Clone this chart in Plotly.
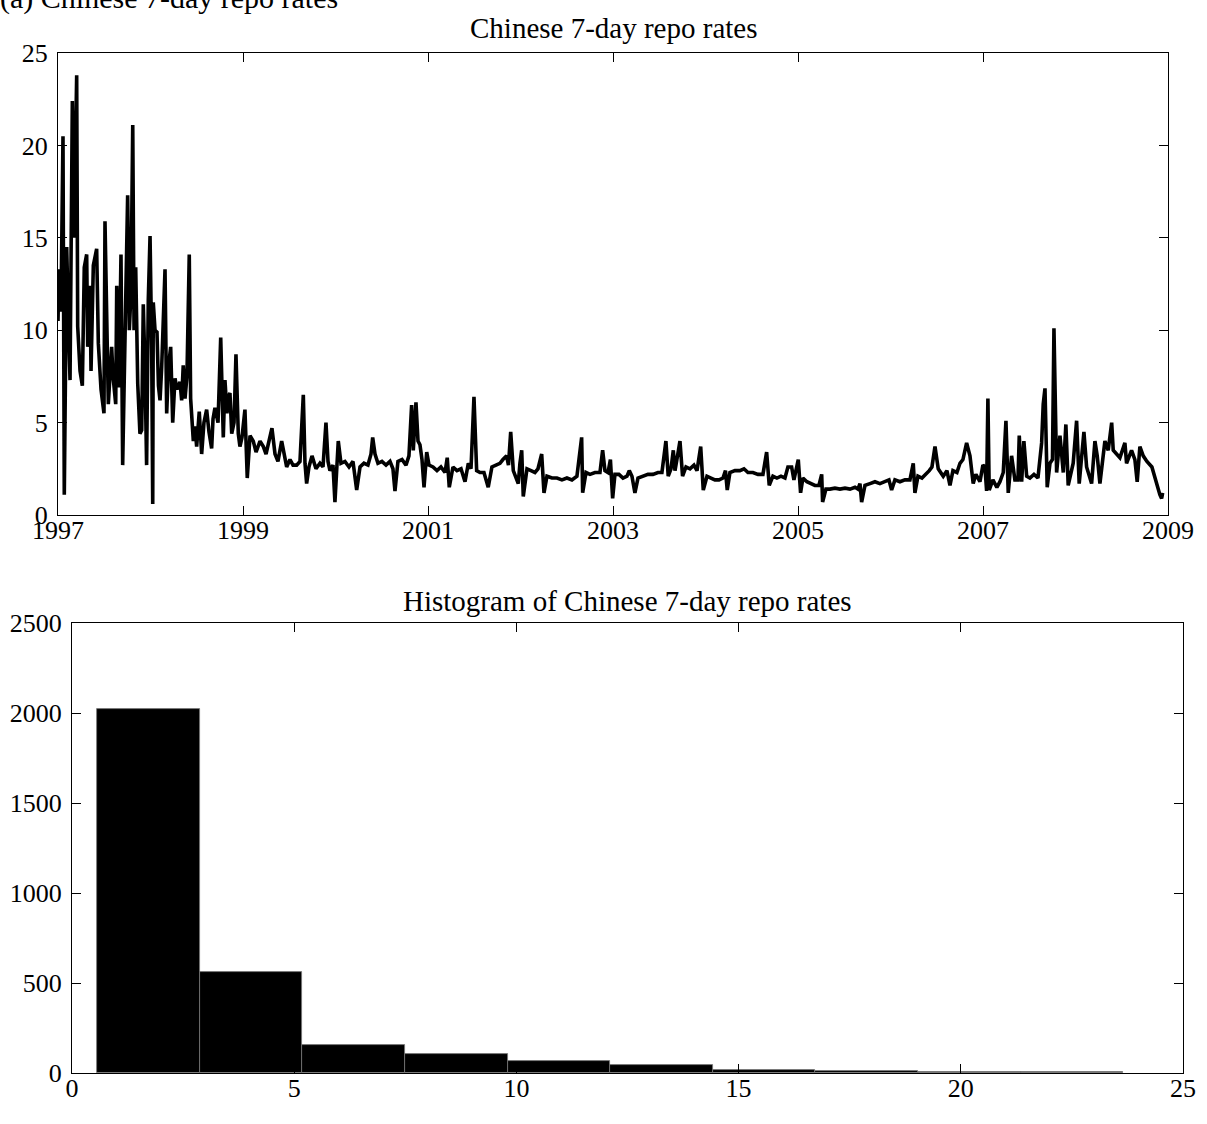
import plotly.graph_objects as go

# ---- time series (decimal years, rate in %) ----
years = [
1997.000,1997.011,1997.032,1997.054,1997.068,1997.094,1997.108,1997.130,1997.155,1997.173,
1997.202,1997.213,1997.238,1997.263,1997.284,1997.310,1997.321,1997.346,1997.357,1997.382,
1997.418,1997.436,1997.465,1997.497,1997.508,1997.526,1997.544,1997.580,1997.595,1997.624,
1997.635,1997.659,1997.681,1997.699,1997.724,1997.753,1997.771,1997.789,1997.808,1997.822,
1997.840,1997.862,1997.886,1997.905,1997.922,1997.940,1997.958,1997.976,1997.995,1998.013,
1998.024,1998.030,1998.049,1998.070,1998.086,1998.103,1998.121,1998.157,1998.175,1998.194,
1998.218,1998.240,1998.265,1998.286,1998.319,1998.337,1998.354,1998.373,1998.394,1998.419,
1998.434,1998.463,1998.481,1998.499,1998.527,1998.553,1998.578,1998.607,1998.632,1998.661,
1998.676,1998.697,1998.730,1998.759,1998.787,1998.805,1998.827,1998.841,1998.859,1998.878,
1998.903,1998.924,1998.949,1998.967,1998.989,1999.021,1999.046,1999.076,1999.111,1999.141,
1999.184,1999.220,1999.249,1999.292,1999.313,1999.346,1999.378,1999.418,1999.454,1999.472,
1999.508,1999.541,1999.580,1999.616,1999.652,1999.670,1999.688,1999.713,1999.746,1999.789,
1999.832,1999.865,1999.897,1999.919,1999.940,1999.973,1999.994,2000.030,2000.059,2000.102,
2000.146,2000.189,2000.229,2000.265,2000.308,2000.351,2000.384,2000.402,2000.427,2000.459,
2000.502,2000.546,2000.589,2000.621,2000.643,2000.675,2000.719,2000.762,2000.794,2000.823,
2000.841,2000.870,2000.892,2000.913,2000.935,2000.957,2000.986,2001.011,2001.054,2001.097,
2001.140,2001.184,2001.208,2001.230,2001.270,2001.313,2001.357,2001.400,2001.436,2001.465,
2001.497,2001.526,2001.562,2001.605,2001.651,2001.691,2001.735,2001.778,2001.810,2001.850,
2001.870,2001.894,2001.922,2001.976,2001.994,2002.013,2002.030,2002.070,2002.113,2002.156,
2002.189,2002.229,2002.254,2002.286,2002.340,2002.394,2002.448,2002.502,2002.556,2002.610,
2002.661,2002.672,2002.708,2002.751,2002.805,2002.859,2002.888,2002.913,2002.946,2002.972,
2002.996,2003.021,2003.064,2003.108,2003.151,2003.176,2003.205,2003.237,2003.270,2003.324,
2003.378,2003.432,2003.486,2003.529,2003.572,2003.597,2003.627,2003.652,2003.670,2003.694,
2003.724,2003.752,2003.789,2003.832,2003.875,2003.908,2003.948,2003.976,2004.016,2004.059,
2004.102,2004.146,2004.189,2004.216,2004.235,2004.264,2004.318,2004.372,2004.416,2004.459,
2004.513,2004.567,2004.621,2004.661,2004.689,2004.729,2004.772,2004.816,2004.859,2004.891,
2004.931,2004.956,2005.003,2005.028,2005.053,2005.096,2005.140,2005.183,2005.226,2005.256,
2005.266,2005.302,2005.345,2005.399,2005.454,2005.508,2005.562,2005.616,2005.648,2005.670,
2005.688,2005.724,2005.778,2005.832,2005.886,2005.940,2005.983,2006.012,2006.048,2006.102,
2006.156,2006.210,2006.246,2006.264,2006.297,2006.340,2006.383,2006.419,2006.448,2006.481,
2006.516,2006.570,2006.610,2006.643,2006.675,2006.718,2006.751,2006.783,2006.823,2006.859,
2006.894,2006.923,2006.967,2006.999,2007.021,2007.039,2007.053,2007.067,2007.107,2007.150,
2007.183,2007.219,2007.248,2007.273,2007.309,2007.345,2007.378,2007.392,2007.418,2007.442,
2007.472,2007.507,2007.551,2007.594,2007.634,2007.651,2007.670,2007.694,2007.724,2007.751,
2007.767,2007.796,2007.832,2007.868,2007.896,2007.921,2007.975,2008.012,2008.040,2008.091,
2008.120,2008.174,2008.210,2008.235,2008.264,2008.318,2008.354,2008.391,2008.408,2008.448,
2008.480,2008.534,2008.552,2008.606,2008.642,2008.667,2008.696,2008.732,2008.772,2008.826,
2008.858,2008.894,2008.912,2008.931,2008.942,
]
rates = [
10.5,13.3,11.0,20.5,1.1,14.5,11.5,7.3,22.4,15.0,
23.8,10.2,7.8,7.0,13.4,14.1,9.1,12.4,7.8,13.5,
14.4,9.3,6.8,5.5,15.9,10.4,6.0,9.1,7.5,6.0,
12.4,6.9,14.1,2.7,9.5,17.3,10.0,12.0,21.1,10.0,
13.4,7.1,4.4,4.6,11.4,8.0,2.7,11.6,15.1,9.0,
0.6,11.5,10.0,9.9,7.0,6.2,8.0,13.3,5.5,8.0,
9.1,5.0,7.4,6.8,7.2,6.2,8.1,6.3,7.5,14.1,
6.3,4.0,4.8,3.7,5.6,3.3,5.0,5.7,4.5,3.6,
5.2,5.8,5.0,9.6,4.2,7.3,5.5,6.4,6.6,4.4,
5.0,8.7,4.4,3.7,4.2,5.7,2.0,4.3,4.0,3.4,
4.0,3.7,3.3,4.2,4.7,3.3,2.9,4.0,3.2,2.6,
3.0,2.7,2.7,2.9,6.5,2.8,1.7,2.6,3.2,2.5,
2.8,2.6,5.0,2.9,2.4,2.7,0.7,4.0,2.8,2.9,
2.6,2.9,1.35,2.6,2.8,2.7,3.3,4.2,3.3,2.8,
2.9,2.7,2.9,2.5,1.3,2.9,3.0,2.7,3.2,5.95,
3.5,6.1,4.0,3.8,3.0,1.5,3.4,2.7,2.6,2.4,
2.6,2.3,3.1,1.5,2.6,2.4,2.5,1.8,2.8,2.5,
6.4,2.4,2.3,2.3,1.5,2.6,2.7,2.8,3.0,3.2,
2.7,4.5,2.4,1.7,2.8,3.5,1.0,2.5,2.4,2.3,
2.5,3.3,1.2,2.1,2.0,2.0,1.9,2.0,1.9,2.1,
4.2,1.2,2.3,2.2,2.3,2.3,3.5,2.4,2.3,3.0,
0.9,2.2,2.2,2.0,2.1,2.4,2.1,1.2,2.0,2.1,
2.2,2.2,2.3,2.3,4.0,2.1,2.5,3.5,2.4,3.1,
4.0,2.1,2.6,2.5,2.7,2.4,3.7,1.35,2.1,2.0,
1.9,1.9,2.0,2.4,1.35,2.3,2.4,2.4,2.5,2.3,
2.3,2.2,2.2,3.4,1.6,2.1,2.0,2.1,2.0,2.6,
2.6,1.9,3.0,1.2,2.0,1.8,1.7,1.6,1.6,2.2,
0.7,1.4,1.4,1.45,1.4,1.45,1.4,1.5,1.4,1.7,
0.7,1.6,1.7,1.8,1.7,1.8,1.9,1.35,1.9,1.8,
1.9,1.9,2.8,1.2,2.1,2.0,2.2,2.4,2.6,3.7,
2.5,2.1,2.4,1.6,2.4,2.3,2.8,3.0,3.9,3.2,
1.7,2.2,1.8,2.7,2.6,1.3,6.3,1.35,1.9,1.5,
1.8,2.3,5.1,1.2,3.2,1.9,1.9,4.3,1.8,4.0,
2.1,2.0,2.2,2.0,3.9,6.0,6.85,1.5,2.8,3.0,
10.1,2.3,4.3,2.3,4.9,1.6,2.8,5.1,1.7,4.5,
2.6,1.7,4.0,3.2,1.7,4.0,3.5,5.0,3.5,3.3,
3.1,3.9,2.8,3.5,3.0,1.8,3.7,3.2,2.9,2.6,
2.0,1.5,1.1,0.9,1.2,
]
year_ticks = [1997, 1999, 2001, 2003, 2005, 2007, 2009]

# ---- histogram (10 bins) ----
bin_edges = [0.56, 2.87, 5.18, 7.49, 9.80, 12.11, 14.42, 16.73, 19.04, 21.35, 23.66]
bin_counts = [2022, 563, 155, 108, 65, 42, 16, 10, 5, 4]

FONT = "Liberation Serif, Times New Roman, serif"
W, H = 1207, 1124

centers = [(a + b) / 2 for a, b in zip(bin_edges[:-1], bin_edges[1:])]
widths = [b - a for a, b in zip(bin_edges[:-1], bin_edges[1:])]

fig = go.Figure()
fig.add_trace(go.Scatter(x=years, y=rates, mode="lines",
                         line=dict(color="black", width=3.6),
                         xaxis="x", yaxis="y", showlegend=False))
fig.add_trace(go.Bar(x=centers, y=bin_counts, width=widths,
                     marker=dict(color="black", line=dict(color="#777777", width=0.8)),
                     xaxis="x2", yaxis="y2", showlegend=False))

axis_common = dict(showline=True, linecolor="black", linewidth=1, mirror="allticks",
                   ticks="inside", ticklen=9, tickcolor="black", tickwidth=1,
                   showgrid=False, zeroline=False, automargin=False,
                   tickfont=dict(family=FONT, size=26, color="black"))
xax = dict(ticklabelstandoff=-8, **axis_common)
yax = dict(ticklabelstandoff=4, **axis_common)

fig.update_layout(
    width=W, height=H,
    margin=dict(l=0, r=0, t=0, b=0, autoexpand=False),
    paper_bgcolor="white", plot_bgcolor="white",
    xaxis=dict(domain=[58 / W, 1168 / W], range=[1997, 2009],
               tickvals=year_ticks, ticktext=[str(y) for y in year_ticks],
               anchor="y", **xax),
    yaxis=dict(domain=[1 - 515 / H, 1 - 53 / H], range=[0, 25],
               tickvals=[0, 5, 10, 15, 20, 25], anchor="x", **yax),
    xaxis2=dict(domain=[72 / W, 1183 / W], range=[0, 25],
                tickvals=[0, 5, 10, 15, 20, 25], anchor="y2", **xax),
    yaxis2=dict(domain=[1 - 1073 / H, 1 - 623 / H], range=[0, 2500],
                tickvals=[0, 500, 1000, 1500, 2000, 2500], anchor="x2", **yax),
    bargap=0,
    annotations=[
        dict(text="(a) Chinese 7-day repo rates", xref="paper", yref="paper",
             x=-2 / W, y=1 + 2 / H, xanchor="left", yanchor="middle", showarrow=False,
             font=dict(family=FONT, size=30, color="black")),
        dict(text="Chinese 7-day repo rates", xref="paper", yref="paper",
             x=613 / W, y=1 - 28 / H, xanchor="center", yanchor="middle", showarrow=False,
             font=dict(family=FONT, size=29, color="black")),
        dict(text="Histogram of Chinese 7-day repo rates", xref="paper", yref="paper",
             x=627 / W, y=1 - 601 / H, xanchor="center", yanchor="middle", showarrow=False,
             font=dict(family=FONT, size=29, color="black")),
    ],
)

# the page's default 8px body margin would shift the figure; remove it
fig.write_html("out.html", config={"displayModeBar": False},
               post_script="document.body.style.margin='0';")
